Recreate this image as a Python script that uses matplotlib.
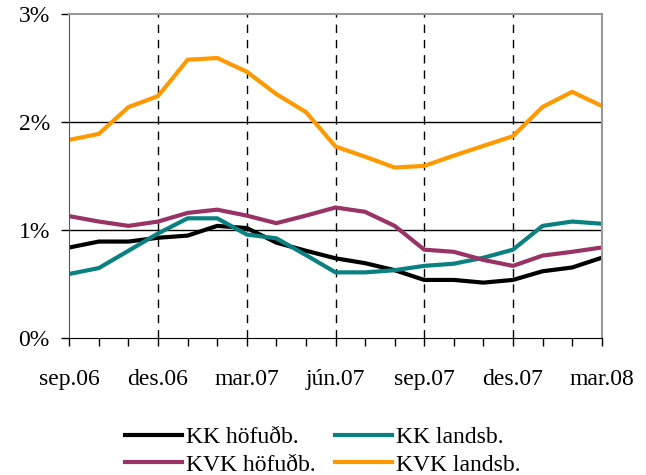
import numpy as np
import matplotlib
matplotlib.use('Agg')
import matplotlib.pyplot as plt
from matplotlib.ticker import FixedLocator, PercentFormatter

# months sep.06 .. mar.08
months = ['sep.06', 'okt.06', 'nóv.06', 'des.06', 'jan.07', 'feb.07', 'mar.07',
          'apr.07', 'maí.07', 'jún.07', 'júl.07', 'ágú.07', 'sep.07', 'okt.07',
          'nóv.07', 'des.07', 'jan.08', 'feb.08', 'mar.08']

kk_hofudb = [0.84, 0.895, 0.895, 0.93, 0.95, 1.04, 1.02, 0.885, 0.81, 0.74,
             0.695, 0.63, 0.54, 0.54, 0.515, 0.54, 0.62, 0.655, 0.745]
kk_landsb = [0.595, 0.65, 0.81, 0.97, 1.11, 1.11, 0.96, 0.925, 0.77, 0.61,
             0.61, 0.63, 0.67, 0.69, 0.745, 0.82, 1.04, 1.08, 1.06]
kvk_hofudb = [1.13, 1.08, 1.04, 1.08, 1.16, 1.19, 1.135, 1.065, 1.135, 1.21,
              1.17, 1.04, 0.82, 0.80, 0.725, 0.67, 0.765, 0.80, 0.84]
kvk_landsb = [1.836, 1.891, 2.139, 2.241, 2.577, 2.593, 2.466, 2.259, 2.093, 1.774,
              1.68, 1.58, 1.595, 1.69, 1.78, 1.87, 2.14, 2.28, 2.15]

plt.rcParams['font.family'] = ['Liberation Serif', 'DejaVu Serif']

fig = plt.figure(figsize=(6.46, 4.75), dpi=100)
ax = fig.add_axes([0.1073, 0.2878, 0.8241, 0.6827])

x = np.arange(len(months))
lw = 3
l1, = ax.plot(x, kk_hofudb, color='black', lw=lw, label='KK höfuðb.')
l2, = ax.plot(x, kk_landsb, color='#0A8080', lw=lw, label='KK landsb.')
l3, = ax.plot(x, kvk_hofudb, color='#993366', lw=lw, label='KVK höfuðb.')
l4, = ax.plot(x, kvk_landsb, color='#FF9900', lw=lw, label='KVK landsb.')

ax.set_xlim(0, len(months) - 1)
ax.set_ylim(0, 3)

major = list(range(0, len(months), 3))
ax.xaxis.set_major_locator(FixedLocator(major))
ax.xaxis.set_minor_locator(FixedLocator(list(x)))
ax.set_xticklabels([months[i] for i in major])
ax.set_yticks([0, 1, 2, 3])
ax.yaxis.set_major_formatter(PercentFormatter(decimals=0))

ax.tick_params(axis='x', which='both', direction='out', length=6, width=1, pad=16, labelsize=17)
ax.tick_params(axis='y', direction='out', length=6, width=1, pad=8, labelsize=17)

for v in [1, 2]:
    ax.axhline(v, color='black', lw=1, zorder=0)
for i in major[1:-1]:
    ax.axvline(i, color='black', lw=1, ls=(0, (6, 5)), zorder=0)

for s in ['top', 'right']:
    ax.spines[s].set_color('#999999')
    ax.spines[s].set_linewidth(1.5)
ax.spines['left'].set_color('#555555')
ax.spines['bottom'].set_color('black')

# legend filled column-wise, so order handles to read row by row
handles = [l1, l3, l2, l4]
fig.legend(handles, [h.get_label() for h in handles], loc='lower center',
           bbox_to_anchor=(0.5, -0.046), ncol=2, frameon=False,
           fontsize=17, handlelength=2.4, handletextpad=0.2, columnspacing=0.8,
           labelspacing=0.25)

fig.savefig('out.png', dpi=100)
